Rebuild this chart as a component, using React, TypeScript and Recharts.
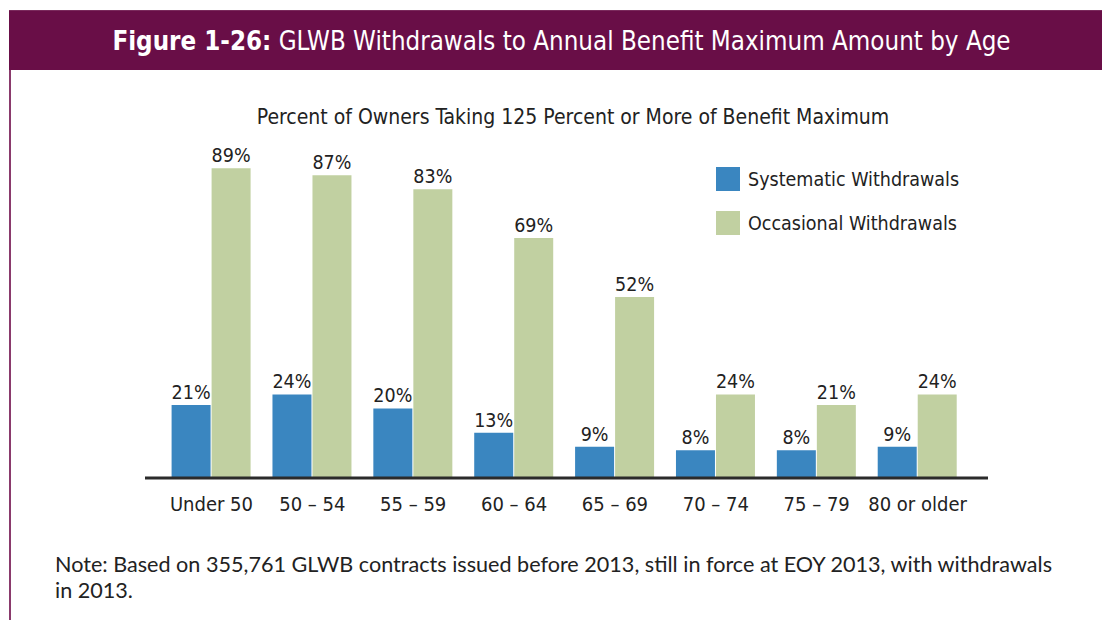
import React from "react";
import { BarChart, Bar, XAxis, YAxis, LabelList } from "recharts";

const categories = ["Under 50", "50 – 54", "55 – 59", "60 – 64", "65 – 69", "70 – 74", "75 – 79", "80 or older"];
const systematic = [21, 24, 20, 13, 9, 8, 8, 9];
const occasional = [89, 87, 83, 69, 52, 24, 21, 24];
const seriesNames = ["Systematic Withdrawals", "Occasional Withdrawals"];

const data = categories.map((c, i) => ({ age: c, systematic: systematic[i], occasional: occasional[i] }));

const BLUE = "#3A86C0";
const GREEN = "#C1D0A1";
const CHART_FONT = "'DejaVu Sans Condensed', 'DejaVu Sans', sans-serif";

export default function App() {
  return (
    <div style={{ position: "absolute", left: 0, top: 0, width: 1102, height: 620, background: "#fff", overflow: "hidden" }}>
      <div
        style={{
          position: "absolute", left: 9, top: 10, width: 1093, height: 60, background: "#690E47",
          borderTop: "1px solid #7a2a5c", boxSizing: "border-box",
          display: "flex", alignItems: "center", justifyContent: "center",
          color: "#fff", fontFamily: CHART_FONT, fontSize: 25.7, paddingLeft: 12,
        }}
      >
        <span><b>Figure 1-26:</b> GLWB Withdrawals to Annual Benefit Maximum Amount by Age</span>
      </div>
      <div style={{ position: "absolute", left: 9, top: 70, width: 2, height: 550, background: "#8a3a6c" }} />
      <div
        style={{
          position: "absolute", left: 0, top: 105, width: 1146, textAlign: "center",
          fontFamily: CHART_FONT, fontSize: 21, color: "#222",
        }}
      >
        Percent of Owners Taking 125 Percent or More of Benefit Maximum
      </div>
      <div style={{ position: "absolute", left: 716, top: 167, fontFamily: CHART_FONT, fontSize: 19.5, color: "#222" }}>
        {[BLUE, GREEN].map((col, i) => (
          <div key={i} style={{ display: "flex", alignItems: "center", height: 24, marginBottom: i === 0 ? 20 : 0 }}>
            <div style={{ width: 24, height: 24, background: col, marginRight: 8 }} />
            <span>{seriesNames[i]}</span>
          </div>
        ))}
      </div>
      <div style={{ position: "absolute", left: 0, top: 0 }}>
        <BarChart
          width={1102}
          height={620}
          data={data}
          margin={{ top: 130, left: 145, right: 114, bottom: 112 }}
          barGap={1}
          barCategoryGap="10.5%"
        >
          <YAxis hide domain={[0, 100]} />
          <XAxis
            dataKey="age"
            height={30}
            padding={{ left: 16, right: 20 }}
            axisLine={{ stroke: "#2b2b2b", strokeWidth: 3 }}
            tickLine={false}
            interval={0}
            tick={{ fontFamily: CHART_FONT, fontSize: 20, fill: "#222" }}
            dy={11}
          />
          <Bar dataKey="systematic" fill={BLUE} isAnimationActive={false}>
            <LabelList dataKey="systematic" position="top" offset={6} formatter={(v: number) => `${v}%`}
              style={{ fontFamily: CHART_FONT, fontSize: 19.5, fill: "#222" }} />
          </Bar>
          <Bar dataKey="occasional" fill={GREEN} isAnimationActive={false}>
            <LabelList dataKey="occasional" position="top" offset={6} formatter={(v: number) => `${v}%`}
              style={{ fontFamily: CHART_FONT, fontSize: 19.5, fill: "#222" }} />
          </Bar>
        </BarChart>
      </div>
      <div
        style={{
          position: "absolute", left: 55, top: 551, width: 1040,
          fontFamily: "Lato, sans-serif", fontSize: 21.6, lineHeight: "26px", color: "#222",
        }}
      >
        Note: Based on 355,761 GLWB contracts issued before 2013, still in force at EOY 2013, with withdrawals
        <br />
        in 2013.
      </div>
    </div>
  );
}
